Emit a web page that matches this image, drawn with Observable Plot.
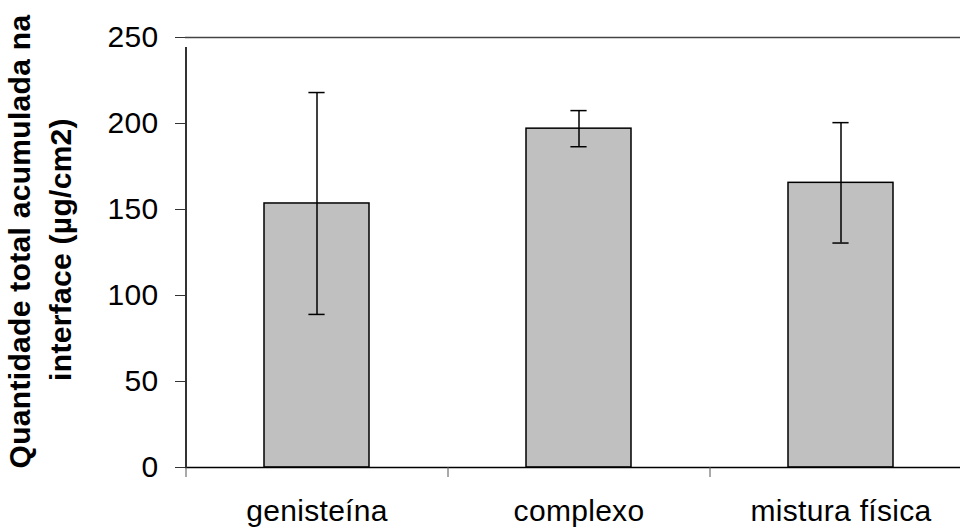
<!DOCTYPE html>
<html><head><meta charset="utf-8">
<script src="https://cdn.jsdelivr.net/npm/d3@7"></script>
<script src="https://cdn.jsdelivr.net/npm/@observablehq/plot@0.6"></script>
<style>
html,body{margin:0;padding:0;background:#fff;overflow:hidden}
svg text{letter-spacing:0.3px}
</style></head><body><div id="chart"></div>
<script>
const categories = ["genisteína", "complexo", "mistura física"];
const means = [153.5, 197, 165.5];
const errors = [64.5, 10.5, 35];
const yTicks = [0, 50, 100, 150, 200, 250];
const titleLines = ["Quantidade total acumulada na", "interface (µg/cm2)"];

const data = categories.map((c, i) => ({cat: c, mean: means[i], lo: means[i] - errors[i], hi: means[i] + errors[i]}));

const W = 960, H = 528, plotLeft = 185, plotTop = 37, plotBottom = 467, plotRight = 971;
const step = (plotRight - plotLeft) / categories.length;
const barW = step * 0.4;
const capInset = (barW - 16) / 2;
const font = "'Liberation Sans', Arial, sans-serif";
const fs = 30;

const chart = Plot.plot({
  width: W, height: H,
  marginLeft: plotLeft, marginTop: plotTop, marginBottom: H - plotBottom, marginRight: 0,
  style: {fontFamily: font, background: "#fff", color: "#000"},
  x: {domain: categories, range: [plotLeft, plotRight], paddingInner: 0.6, paddingOuter: 0.3, axis: null},
  y: {domain: [0, 250], range: [plotBottom, plotTop], axis: null},
  marks: [
    Plot.barY(data, {x: "cat", y: "mean", fill: "#c0c0c0", stroke: "#000", strokeWidth: 1.5}),
    Plot.ruleX(data, {x: "cat", y1: "lo", y2: "hi", stroke: "#000", strokeWidth: 1.5}),
    Plot.tickY(data, {x: "cat", y: "lo", stroke: "#000", strokeWidth: 1.5, insetLeft: capInset, insetRight: capInset}),
    Plot.tickY(data, {x: "cat", y: "hi", stroke: "#000", strokeWidth: 1.5, insetLeft: capInset, insetRight: capInset}),
    Plot.ruleY([250], {stroke: "#444", strokeWidth: 1.3}),
    Plot.ruleY([0], {stroke: "#000", strokeWidth: 1.3}),
    Plot.ruleX(categories, {x: d => d, dx: -step / 2, y1: 0, y2: 0, insetBottom: -10, stroke: "#555", strokeWidth: 1}),
    Plot.ruleX(categories.slice(0, 1), {x: d => d, dx: -step / 2, y1: 0, y2: 250, insetBottom: -10, stroke: "#333", strokeWidth: 2}),
    Plot.axisY({ticks: yTicks, tickSize: 10, tickPadding: 17, fontSize: fs, stroke: "#333", label: null, tickFormat: d => String(d)}),
    Plot.axisX({tickSize: 0, tickPadding: 32, fontSize: fs, label: null}),
    Plot.text([titleLines[0]], {frameAnchor: "left", dx: -156, dy: -11, rotate: -90, textAnchor: "middle", lineAnchor: "bottom", fontWeight: "bold", fontSize: fs}),
    Plot.text([titleLines[1]], {frameAnchor: "left", dx: -115, dy: -3, rotate: -90, textAnchor: "middle", lineAnchor: "bottom", fontWeight: "bold", fontSize: fs})
  ]
});
document.getElementById("chart").appendChild(chart);
</script>
</body></html>
